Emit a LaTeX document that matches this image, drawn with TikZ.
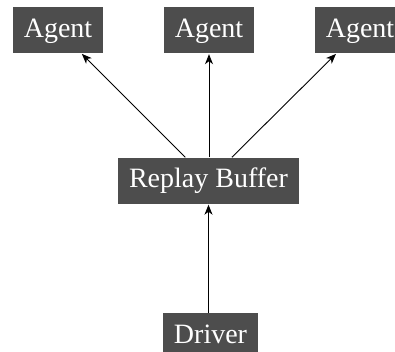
\documentclass[tikz,border=0pt]{standalone}
\usepackage{fontspec}
\setmainfont{Liberation Serif}
\usetikzlibrary{arrows.meta}
\definecolor{boxgray}{RGB}{77,77,77}
\tikzset{
  box/.style={fill=boxgray, text=white, font=\fontsize{28}{32}\selectfont,
    inner xsep=11pt, inner ysep=10pt, text height=20pt, text depth=6pt},
  link/.style={draw=black, line width=0.9pt, -{Stealth[length=10pt,width=8pt,inset=3pt]}, shorten >=1pt}
}
\begin{document}
\begin{tikzpicture}[x=1pt,y=-1pt]
\useasboundingbox (0,0) rectangle (395,351);
\node[box] (a1) at (58,30) {Agent};
\node[box] (a2) at (209,30) {Agent};
\node[box] (a3) at (360,30) {Agent};
\node[box] (rb) at (208.5,180.5) {Replay Buffer};
\node[box] (dr) at (210.5,336) {Driver};
\draw[link] (rb) -- (a1);
\draw[link] (rb.north -| a2) -- (a2);
\draw[link] (rb) -- (a3);
\draw[link] (dr.north -| rb) -- (rb);
\end{tikzpicture}
\end{document}
